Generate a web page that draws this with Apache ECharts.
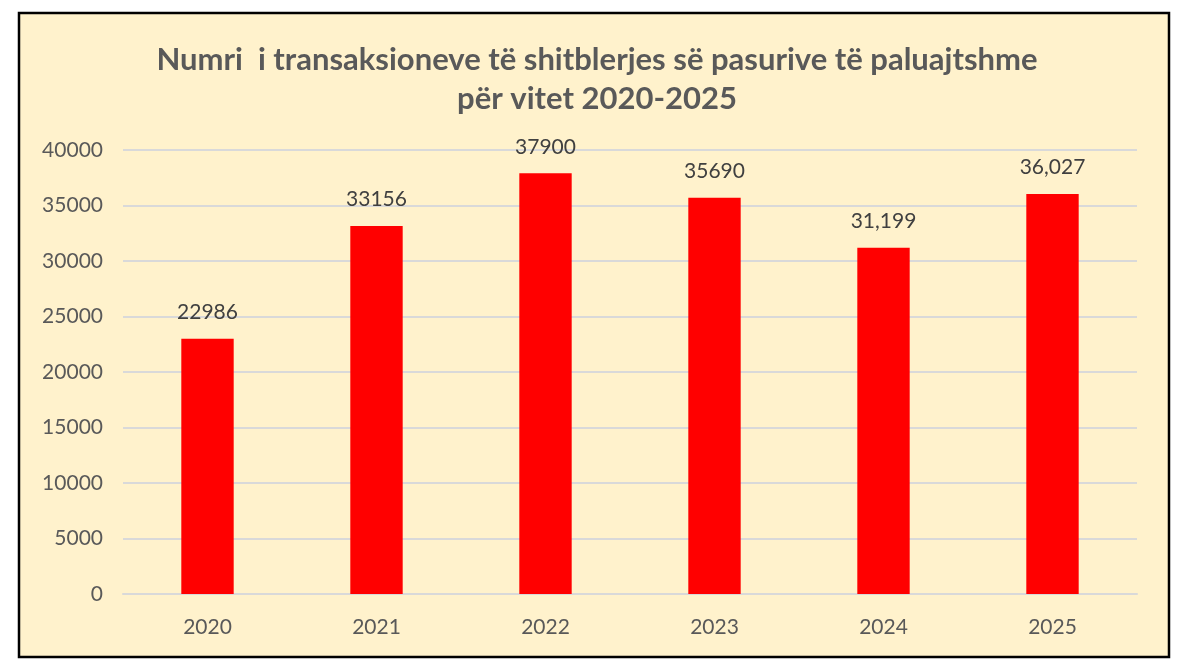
<!DOCTYPE html>
<html>
<head>
<meta charset="utf-8">
<script src="https://cdn.jsdelivr.net/npm/echarts@6/dist/echarts.min.js"></script>
<style>
  html, body { margin: 0; padding: 0; background: #fff; }
  #chart { width: 1177px; height: 672px; }
</style>
</head>
<body>
<div id="chart"></div>
<script>
// vitet dhe numri i transaksioneve
const years = ['2020', '2021', '2022', '2023', '2024', '2025']
const transactions = [22986, 33156, 37900, 35690, 31199, 36027]
// etiketat ashtu si shfaqen ne grafik (formate te perziera)
const valueLabels = ['22986', '33156', '37900', '35690', '31,199', '36,027']
const yTicks = [0, 5000, 10000, 15000, 20000, 25000, 30000, 35000, 40000]

const font = 'Lato, "Open Sans", sans-serif'

let myChart = echarts.init(document.getElementById('chart'))
myChart.setOption({
  backgroundColor: '#ffffff',
  animation: false,
  graphic: [{
    type: 'rect',
    shape: { x: 19, y: 13, width: 1150, height: 644 },
    style: { fill: '#FFF2CC', stroke: '#000000', lineWidth: 2.5 },
    z: -10
  }],
  title: {
    text: 'Numri  i transaksioneve të shitblerjes së pasurive të paluajtshme\npër vitet 2020-2025',
    left: 592,
    top: 35,
    textAlign: 'center',
    textStyle: {
      fontFamily: font,
      fontWeight: 'bold',
      fontSize: 31,
      color: '#595959',
      lineHeight: 39
    }
  },
  grid: {
    left: 123,
    right: 40,
    top: 150,
    bottom: 78
  },
  xAxis: {
    type: 'category',
    data: years,
    axisLine: { show: true, lineStyle: { color: '#D9D9D9', width: 2 } },
    axisTick: { show: false },
    axisLabel: { color: '#595959', fontSize: 21, fontFamily: font, margin: 23 }
  },
  yAxis: {
    type: 'value',
    min: yTicks[0],
    max: yTicks[yTicks.length - 1],
    interval: 5000,
    axisLine: { show: false },
    axisTick: { show: false },
    splitLine: { lineStyle: { color: '#D9D9D9', width: 2 } },
    axisLabel: {
      color: '#595959',
      fontSize: 21,
      fontFamily: font,
      margin: 20,
      formatter: function (v) { return String(v) }
    }
  },
  series: [{
    type: 'bar',
    data: transactions,
    barWidth: '31%',
    itemStyle: { color: '#FF0000' },
    label: {
      show: true,
      position: 'top',
      distance: 16,
      color: '#404040',
      fontSize: 21,
      fontFamily: font,
      formatter: function (params) {
        return valueLabels[params.dataIndex]
      }
    }
  }]
})
</script>
</body>
</html>
